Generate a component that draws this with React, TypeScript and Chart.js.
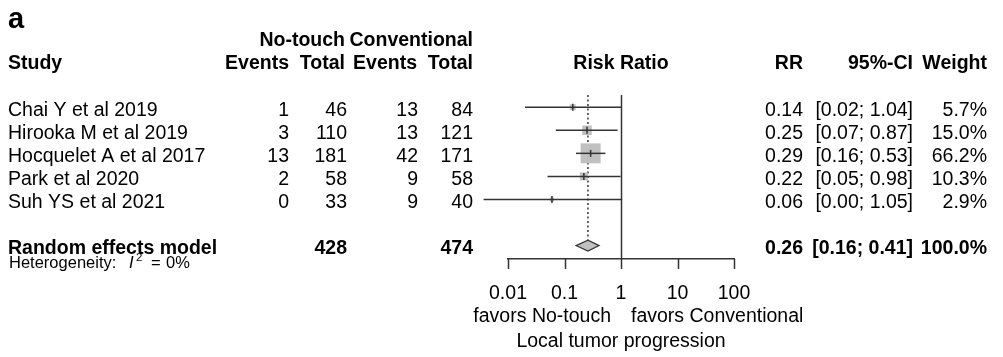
import React, { useEffect, useRef } from "react";
import { Chart, registerables } from "chart.js";

Chart.register(...registerables);

// ---- Data ----
const studies = [
  "Chai Y et al 2019",
  "Hirooka M et al 2019",
  "Hocquelet A et al 2017",
  "Park et al 2020",
  "Suh YS et al 2021",
];
const eventsNoTouch = [1, 3, 13, 2, 0];
const totalNoTouch = [46, 110, 181, 58, 33];
const eventsConv = [13, 13, 42, 9, 9];
const totalConv = [84, 121, 171, 58, 40];
const rr = [0.14, 0.25, 0.29, 0.22, 0.06];
const ciLower = [0.02, 0.07, 0.16, 0.05, 0.0037];
const ciUpper = [1.04, 0.87, 0.53, 0.98, 1.05];
const rrLabels = ["0.14", "0.25", "0.29", "0.22", "0.06"];
const ciLabels = ["[0.02; 1.04]", "[0.07; 0.87]", "[0.16; 0.53]", "[0.05; 0.98]", "[0.00; 1.05]"];
const weights = [5.7, 15.0, 66.2, 10.3, 2.9];
const weightLabels = ["5.7%", "15.0%", "66.2%", "10.3%", "2.9%"];

const pooledLabel = "Random effects model";
const pooledRR = [0.26];
const pooledLower = [0.16];
const pooledUpper = [0.41];
const pooledTotals = [428, 474];
const pooledTexts = ["0.26", "[0.16; 0.41]", "100.0%"];
const heterogeneity = ["Heterogeneity: ", "I", "2", "=", "0%"];

const tickValues = [0.01, 0.1, 1, 10, 100];
const tickLabels = ["0.01", "0.1", "1", "10", "100"];
const favorLabels = ["favors No-touch", "favors Conventional"];
const axisTitle = "Local tumor progression";

const POOLED_ROW = 6;
const FONT = "'Liberation Sans', Arial, Helvetica, sans-serif";
const FS = 19.5;
const LINE = "#333333";
const BOX = "#c0c0c0";

const forestPlugin = {
  id: "forest",
  beforeDatasetsDraw(chart: any) {
    const { ctx, scales, chartArea } = chart;
    const x = scales.x;
    const y = scales.y;
    ctx.save();
    // no-effect line
    const x1 = Math.round(x.getPixelForValue(1)) + 0.5;
    ctx.strokeStyle = LINE;
    ctx.lineWidth = 1.5;
    ctx.beginPath();
    ctx.moveTo(x1, chartArea.top);
    ctx.lineTo(x1, chartArea.bottom);
    ctx.stroke();
    // axis tick marks
    for (const v of tickValues) {
      const tx = Math.round(x.getPixelForValue(v)) + 0.5;
      ctx.beginPath();
      ctx.moveTo(tx, chartArea.bottom);
      ctx.lineTo(tx, chartArea.bottom + 10);
      ctx.stroke();
    }
    // pooled dotted line
    const xp = x.getPixelForValue(pooledRR[0]);
    ctx.setLineDash([2, 2.5]);
    ctx.lineWidth = 1.5;
    ctx.beginPath();
    ctx.moveTo(xp, chartArea.top);
    ctx.lineTo(xp, y.getPixelForValue(POOLED_ROW) - 6);
    ctx.stroke();
    ctx.restore();
  },
  afterDatasetsDraw(chart: any) {
    const { ctx, scales } = chart;
    const x = scales.x;
    const y = scales.y;
    ctx.save();
    ctx.strokeStyle = LINE;
    ctx.lineWidth = 1.5;
    for (let i = 0; i < studies.length; i++) {
      const py = y.getPixelForValue(i);
      ctx.beginPath();
      ctx.moveTo(x.getPixelForValue(ciLower[i]), py);
      ctx.lineTo(x.getPixelForValue(ciUpper[i]), py);
      ctx.stroke();
      const px = x.getPixelForValue(rr[i]);
      ctx.beginPath();
      ctx.moveTo(px, py - 3.5);
      ctx.lineTo(px, py + 3.5);
      ctx.stroke();
    }
    // diamond
    const dy = y.getPixelForValue(POOLED_ROW);
    const h = 5.5;
    ctx.beginPath();
    ctx.moveTo(x.getPixelForValue(pooledLower[0]), dy);
    ctx.lineTo(x.getPixelForValue(pooledRR[0]), dy - h);
    ctx.lineTo(x.getPixelForValue(pooledUpper[0]), dy);
    ctx.lineTo(x.getPixelForValue(pooledRR[0]), dy + h);
    ctx.closePath();
    ctx.fillStyle = BOX;
    ctx.fill();
    ctx.lineWidth = 1.2;
    ctx.stroke();
    ctx.restore();
  },
  afterDraw(chart: any) {
    const { ctx, scales, chartArea } = chart;
    const x = scales.x;
    const y = scales.y;
    ctx.save();
    ctx.fillStyle = "#000";
    ctx.textBaseline = "alphabetic";
    const txt = (s: string, px: number, py: number, align: CanvasTextAlign, bold = false, size = FS) => {
      ctx.font = `${bold ? "bold " : ""}${size}px ${FONT}`;
      ctx.textAlign = align;
      ctx.fillText(s, px, py);
    };
    // panel letter
    txt("a", 8, 28, "left", true, 29);
    // headers
    txt("No-touch", 345, 46, "right", true);
    txt("Conventional", 473, 46, "right", true);
    txt("Study", 8, 69, "left", true);
    txt("Events", 289, 69, "right", true);
    txt("Total", 345, 69, "right", true);
    txt("Events", 417, 69, "right", true);
    txt("Total", 473, 69, "right", true);
    txt("Risk Ratio", (chartArea.left + chartArea.right) / 2, 69, "center", true);
    txt("RR", 803, 69, "right", true);
    txt("95%-CI", 913, 69, "right", true);
    txt("Weight", 987, 69, "right", true);
    // study rows
    for (let i = 0; i < studies.length; i++) {
      const by = y.getPixelForValue(i) + 8.5;
      txt(studies[i], 8, by, "left");
      txt(String(eventsNoTouch[i]), 289, by, "right");
      txt(String(totalNoTouch[i]), 347, by, "right");
      txt(String(eventsConv[i]), 418, by, "right");
      txt(String(totalConv[i]), 473, by, "right");
      txt(rrLabels[i], 803, by, "right");
      txt(ciLabels[i], 913, by, "right");
      txt(weightLabels[i], 987, by, "right");
    }
    // pooled row
    const pb = y.getPixelForValue(POOLED_ROW) + 8.5;
    txt(pooledLabel, 8, pb, "left", true);
    txt(String(pooledTotals[0]), 347, pb, "right", true);
    txt(String(pooledTotals[1]), 473, pb, "right", true);
    txt(pooledTexts[0], 803, pb, "right", true);
    txt(pooledTexts[1], 913, pb, "right", true);
    txt(pooledTexts[2], 987, pb, "right", true);
    // heterogeneity
    const hb = pb + 14;
    ctx.textAlign = "left";
    ctx.font = `16.5px ${FONT}`;
    ctx.fillText(heterogeneity[0], 9, hb);
    ctx.font = `italic 16.5px ${FONT}`;
    ctx.fillText(heterogeneity[1], 129, hb);
    ctx.font = `11.5px ${FONT}`;
    ctx.fillText(heterogeneity[2], 136, hb - 7);
    ctx.font = `16.5px ${FONT}`;
    ctx.fillText(heterogeneity[3], 151, hb);
    ctx.fillText(heterogeneity[4], 166, hb);
    // favours labels & title
    const x1 = x.getPixelForValue(1);
    txt(favorLabels[0], x1 - 10, 322, "right");
    txt(favorLabels[1], x1 + 10, 322, "left");
    txt(axisTitle, (chartArea.left + chartArea.right) / 2, 347, "center");
    ctx.restore();
  },
};

export default function App() {
  const ref = useRef<HTMLCanvasElement | null>(null);
  useEffect(() => {
    if (!ref.current) return;
    const maxW = Math.max(...weights);
    const chart = new Chart(ref.current, {
      type: "scatter",
      data: {
        datasets: [
          {
            data: rr.map((v, i) => ({ x: v, y: i })),
            pointStyle: "rect",
            pointRadius: weights.map((w) => (20 * Math.sqrt(w / maxW)) / Math.SQRT2),
            pointHoverRadius: weights.map((w) => (20 * Math.sqrt(w / maxW)) / Math.SQRT2),
            backgroundColor: BOX,
            borderWidth: 0,
            showLine: false,
          },
        ],
      },
      options: {
        animation: false,
        responsive: false,
        devicePixelRatio: 1,
        events: [],
        layout: { padding: { left: 508, right: 269, top: 95, bottom: 0 } },
        plugins: { legend: { display: false }, tooltip: { enabled: false } },
        scales: {
          x: {
            type: "logarithmic",
            min: tickValues[0],
            max: tickValues[tickValues.length - 1],
            afterBuildTicks: (s: any) => {
              s.ticks = tickValues.map((v) => ({ value: v }));
            },
            afterFit: (s: any) => {
              s.height = 98;
            },
            ticks: {
              autoSkip: false,
              maxRotation: 0,
              padding: 13,
              color: "#000",
              font: { family: FONT, size: FS },
              callback: (v: any) => {
                const idx = tickValues.findIndex((t) => Math.abs(t - Number(v)) < 1e-9);
                return idx >= 0 ? tickLabels[idx] : "";
              },
            },
            grid: { display: false, drawOnChartArea: false, drawTicks: true, tickLength: 10 },
            border: { display: true, color: LINE, width: 1.5 },
          },
          y: {
            type: "linear",
            min: -0.53,
            max: 6.58,
            reverse: true,
            display: false,
          },
        },
      },
      plugins: [forestPlugin],
    });
    return () => chart.destroy();
  }, []);
  return (
    <div style={{ position: "absolute", left: 0, top: 0, width: 1003, height: 357, background: "#fff" }}>
      <canvas ref={ref} width={1003} height={357} style={{ display: "block" }} />
    </div>
  );
}
